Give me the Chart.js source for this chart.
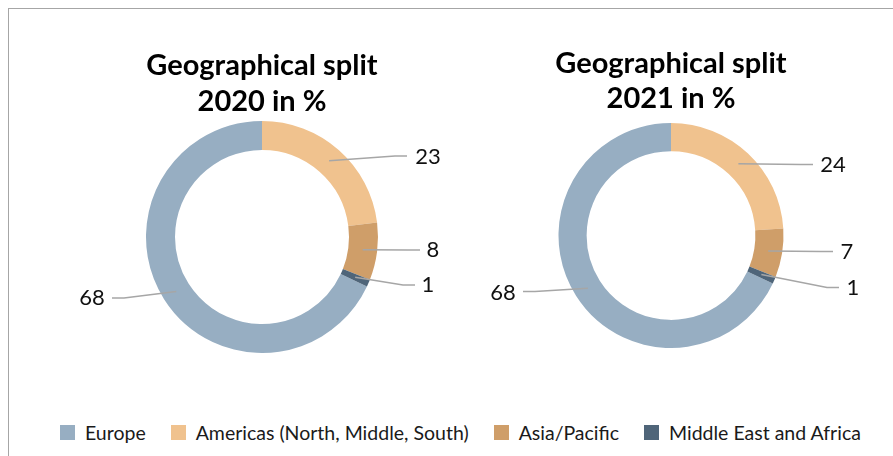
<!DOCTYPE html>
<html>
<head>
<meta charset="utf-8">
<script src="https://cdn.jsdelivr.net/npm/chart.js@4.4.0/dist/chart.umd.min.js"></script>
<style>
    html, body { margin: 0; padding: 0; background: #fff; }
    body { width: 893px; height: 456px; position: relative; overflow: hidden; font-family: Lato, "Open Sans", sans-serif; }
    .frame { position: absolute; left: 8px; top: 8px; width: 900px; height: 460px; border: 1px solid #a6a6a6; box-sizing: border-box; }
    .chart-box { position: absolute; top: 0; width: 420px; }
    #box2020 { left: 52px; height: 353px; }
    #box2021 { left: 461px; height: 348px; }
    #legend { position: absolute; left: 60px; top: 421px; display: flex; align-items: center; font-size: 19.5px; color: #1a1a1a; white-space: nowrap; }
    #legend .item { display: flex; align-items: center; margin-right: 25px; }
    #legend .swatch { width: 15px; height: 15px; margin-right: 10px; }
</style>
</head>
<body>
<div class="frame"></div>
<div class="chart-box" id="box2020"><canvas id="chart2020"></canvas></div>
<div class="chart-box" id="box2021"><canvas id="chart2021"></canvas></div>
<div id="legend"></div>
<script>
const categories = ['Europe', 'Americas (North, Middle, South)', 'Asia/Pacific', 'Middle East and Africa'];
const values2020 = [68, 23, 8, 1];
const values2021 = [68, 24, 7, 1];
const title2020 = ['Geographical split', '2020 in %'];
const title2021 = ['Geographical split', '2021 in %'];
const colors = ['#97aec2', '#f0c28e', '#cf9e69', '#4f6579'];
const leaderColor = '#a6a6a6';

// label placement around each ring, offsets from the ring centre (text centre / end of leader)
const labelSpots2020 = {
    text: [[-170, 61], [166, -80], [171, 13], [166, 48]],
    end: [[-150, 61], [145, -81], [158, 13], [153, 48]]
};
const labelSpots2021 = {
    text: [[-168, 57], [162, -71], [176, 16], [182, 52]],
    end: [[-148, 56], [142, -71], [162, 16], [168, 52]]
};

// draws Excel-like data labels with leader lines
const leaderLabels = {
    id: 'leaderLabels',
    afterDatasetsDraw(chart, args, opts) {
        const {ctx} = chart;
        const meta = chart.getDatasetMeta(0);
        const values = chart.data.datasets[0].data;
        ctx.save();
        meta.data.forEach((arc, i) => {
            const start = arc.getCenterPoint();
            const [ex, ey] = opts.spots.end[i];
            const [tx, ty] = opts.spots.text[i];
            const side = ex < 0 ? -1 : 1;
            const endX = arc.x + ex, endY = arc.y + ey;
            const elbowX = endX - side * 12;

            ctx.strokeStyle = leaderColor;
            ctx.lineWidth = 1.5;
            ctx.beginPath();
            ctx.moveTo(start.x, start.y);
            ctx.lineTo(elbowX, endY);
            ctx.lineTo(endX, endY);
            ctx.stroke();

            ctx.fillStyle = '#111';
            ctx.font = '22px Lato, "Open Sans", sans-serif';
            ctx.textAlign = 'center';
            ctx.textBaseline = 'middle';
            ctx.fillText(String(values[i]), arc.x + tx, arc.y + ty);
        });
        ctx.restore();
    }
};

function titleOptions(text, lineHeight, padTop, padBottom) {
    return {
        display: true,
        text: text,
        color: '#000',
        font: {family: 'Lato, "Open Sans", sans-serif', size: 29, weight: 'bold', lineHeight: lineHeight + 'px'},
        padding: {top: padTop, bottom: padBottom}
    };
}

function createChart(id, values, title, spots, lineHeight, padTop, padBottom) {
    return new Chart(document.getElementById(id), {
        type: 'doughnut',
        data: {
            labels: categories,
            datasets: [{
                data: values,
                backgroundColor: colors,
                borderWidth: 0,
                hoverOffset: 0
            }]
        },
        options: {
            responsive: true,
            maintainAspectRatio: false,
            animation: false,
            cutout: '75%',
            rotation: 115.2,
            layout: {padding: 0},
            plugins: {
                legend: {display: false},
                tooltip: {enabled: false},
                title: titleOptions(title, lineHeight, padTop, padBottom),
                leaderLabels: {spots: spots}
            }
        },
        plugins: [leaderLabels]
    });
}

createChart('chart2020', values2020, title2020, labelSpots2020, 36, 48, 1);
createChart('chart2021', values2021, title2021, labelSpots2021, 35, 46, 7);

// html legend shared by both rings
const legend = document.getElementById('legend');
categories.forEach((name, i) => {
    const item = document.createElement('div');
    item.className = 'item';
    const sw = document.createElement('span');
    sw.className = 'swatch';
    sw.style.background = colors[i];
    const label = document.createElement('span');
    label.textContent = name;
    item.appendChild(sw);
    item.appendChild(label);
    legend.appendChild(item);
});
</script>
</body>
</html>
